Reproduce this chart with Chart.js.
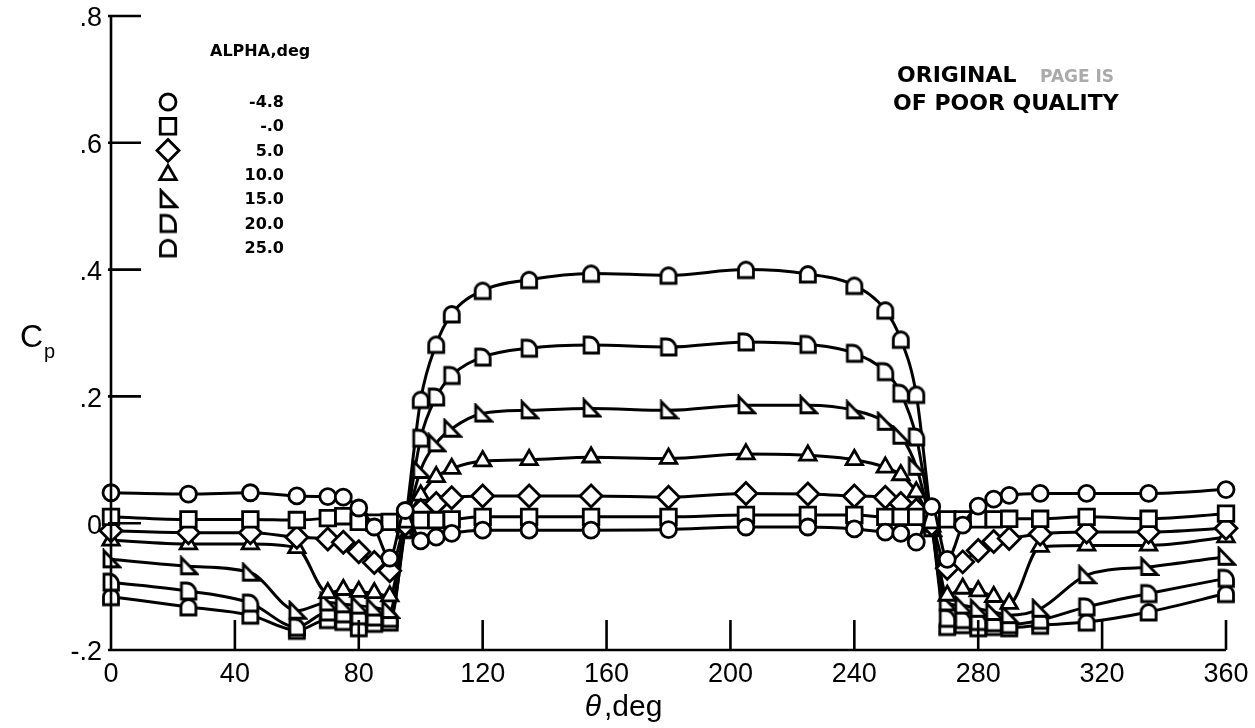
<!DOCTYPE html>
<html>
<head>
<meta charset="utf-8">
<script src="https://cdn.jsdelivr.net/npm/chart.js@4.4.1/dist/chart.umd.min.js"></script>
<style>
  html, body { margin: 0; padding: 0; background: #fff; }
  #wrap { width: 1255px; height: 728px; }
</style>
</head>
<body>
<div id="wrap"><canvas id="cpChart" width="1255" height="728"></canvas></div>
<script>
// circumferential station, deg
const theta = [0, 25, 45, 60, 70, 75, 80, 85, 90, 95, 100, 105, 110, 120, 135, 155, 180,
               205, 225, 240, 250, 255, 260, 265, 270, 275, 280, 285, 290, 300, 315, 335, 360];

// Cp for each angle of attack
const cpAlphaM48 = [0.048, 0.046, 0.048, 0.043, 0.042, 0.041, 0.024, -0.006, -0.055, 0.020, -0.028, -0.022, -0.016,
                    -0.011, -0.011, -0.011, -0.010, -0.006, -0.006, -0.009, -0.014, -0.016, -0.030, 0.026,
                    -0.057, -0.003, 0.027, 0.038, 0.044, 0.047, 0.047, 0.047, 0.053];
const cpAlpha0   = [0.010, 0.006, 0.006, 0.005, 0.008, 0.011, 0.002, 0.001, 0.002, 0.006, 0.005, 0.005, 0.006,
                    0.010, 0.010, 0.010, 0.010, 0.013, 0.013, 0.013, 0.010, 0.010, 0.010, 0.005,
                    0.006, 0.006, 0.006, 0.006, 0.007, 0.007, 0.010, 0.007, 0.015];
const cpAlpha5   = [-0.012, -0.015, -0.015, -0.022, -0.025, -0.030, -0.045, -0.062, -0.075, -0.002, 0.020, 0.031, 0.040,
                    0.043, 0.043, 0.043, 0.041, 0.047, 0.046, 0.043, 0.041, 0.031, 0.021, -0.002,
                    -0.071, -0.061, -0.043, -0.029, -0.024, -0.017, -0.014, -0.014, -0.008];
const cpAlpha10  = [-0.027, -0.033, -0.033, -0.039, -0.110, -0.105, -0.108, -0.110, -0.115, -0.005, 0.044, 0.073, 0.086,
                    0.098, 0.100, 0.104, 0.102, 0.109, 0.107, 0.100, 0.088, 0.076, 0.049, -0.005,
                    -0.114, -0.103, -0.107, -0.116, -0.127, -0.037, -0.035, -0.035, -0.022];
const cpAlpha15  = [-0.057, -0.068, -0.078, -0.138, -0.125, -0.128, -0.130, -0.133, -0.137, -0.010, 0.084, 0.126, 0.149,
                    0.173, 0.178, 0.181, 0.178, 0.186, 0.186, 0.178, 0.160, 0.138, 0.089, -0.008,
                    -0.125, -0.130, -0.135, -0.140, -0.145, -0.135, -0.082, -0.069, -0.053];
const cpAlpha20  = [-0.093, -0.107, -0.126, -0.164, -0.140, -0.143, -0.146, -0.148, -0.150, -0.010, 0.134, 0.199, 0.233,
                    0.262, 0.276, 0.281, 0.278, 0.286, 0.282, 0.268, 0.239, 0.205, 0.136, -0.005,
                    -0.150, -0.152, -0.155, -0.157, -0.160, -0.153, -0.132, -0.111, -0.087];
const cpAlpha25  = [-0.116, -0.132, -0.145, -0.169, -0.152, -0.155, -0.165, -0.158, -0.156, 0.000, 0.195, 0.282, 0.330,
                    0.367, 0.384, 0.394, 0.391, 0.400, 0.393, 0.375, 0.336, 0.290, 0.203, 0.000,
                    -0.163, -0.160, -0.165, -0.163, -0.165, -0.161, -0.156, -0.140, -0.111];

const alphaLabels = ['-4.8', '-.0', '5.0', '10.0', '15.0', '20.0', '25.0'];
const xTicks = [0, 40, 80, 120, 160, 200, 240, 280, 320, 360];
const yTicks = [-0.2, 0, 0.2, 0.4, 0.6, 0.8];
const yTickLabels = ['-.2', '0', '.2', '.4', '.6', '.8'];

// odd symbols from the old plot package
function makeMarker(kind) {
    const c = document.createElement('canvas');
    c.width = 22; c.height = 22;
    const g = c.getContext('2d');
    g.lineWidth = 2.8;
    g.strokeStyle = '#000';
    g.fillStyle = '#fff';
    g.beginPath();
    if (kind === 'flag') {
        g.moveTo(4, 2.5); g.lineTo(4, 18.5); g.lineTo(19.5, 18.5); g.closePath();
    } else if (kind === 'dee') {
        g.moveTo(4, 3); g.lineTo(4, 19); g.lineTo(18.5, 19); g.lineTo(18.5, 13);
        g.bezierCurveTo(18.5, 7, 14, 3, 9, 3); g.closePath();
    } else {
        g.moveTo(3.5, 19); g.lineTo(3.5, 11); g.arc(11, 11, 7.5, Math.PI, 0); g.lineTo(18.5, 19); g.closePath();
    }
    g.fill(); g.stroke();
    return c;
}
const flagMark = makeMarker('flag');
const deeMark = makeMarker('dee');
const archMark = makeMarker('arch');

const series = [cpAlphaM48, cpAlpha0, cpAlpha5, cpAlpha10, cpAlpha15, cpAlpha20, cpAlpha25];
const styles = ['circle', 'rect', 'rectRot', 'triangle', flagMark, deeMark, archMark];
const radii = [8, 11, 11, 9.5, 8, 8, 8];

const datasets = series.map((vals, i) => ({
    label: alphaLabels[i],
    data: theta.map((t, j) => ({ x: t, y: vals[j] })),
    borderColor: '#000',
    borderWidth: 3,
    pointStyle: styles[i],
    pointRadius: radii[i],
    pointBorderColor: '#000',
    pointBackgroundColor: '#fff',
    pointBorderWidth: 2.8,
    cubicInterpolationMode: 'monotone',
    clip: false
}));

const FONT = '"Liberation Sans", Arial, sans-serif';
const BOLD = '"DejaVu Sans", Verdana, sans-serif';

const axesPlugin = {
    id: 'axesPlugin',
    afterDatasetsDraw(chart) {
        const { ctx, scales: { x, y } } = chart;
        const x0 = x.getPixelForValue(0), x1 = x.getPixelForValue(360);
        const yTop = y.getPixelForValue(0.8), yBot = y.getPixelForValue(-0.2);
        ctx.save();
        ctx.strokeStyle = '#000';
        ctx.lineWidth = 2.6;
        ctx.beginPath();
        ctx.moveTo(x0, yTop); ctx.lineTo(x0, yBot); ctx.lineTo(x1, yBot);
        yTicks.forEach(v => {
            const py = y.getPixelForValue(v);
            ctx.moveTo(x0 - 3, py); ctx.lineTo(x0 + 30, py);
        });
        xTicks.forEach(v => {
            if (v === 0) return;
            const px = x.getPixelForValue(v);
            ctx.moveTo(px, yBot); ctx.lineTo(px, yBot - 30);
        });
        ctx.stroke();

        ctx.fillStyle = '#000';
        ctx.font = '27px ' + FONT;
        ctx.textAlign = 'center';
        ctx.textBaseline = 'middle';
        xTicks.forEach(v => ctx.fillText(String(v), x.getPixelForValue(v), 675));
        ctx.textAlign = 'right';
        yTicks.forEach((v, i) => ctx.fillText(yTickLabels[i], 102, y.getPixelForValue(v) + 3));

        // axis titles
        ctx.textAlign = 'center';
        ctx.font = 'italic 30px ' + FONT;
        ctx.fillText('\u03b8', 593, 708);
        ctx.font = '30px ' + FONT;
        ctx.textAlign = 'left';
        ctx.fillText(',deg', 604, 708);
        ctx.font = '32px ' + FONT;
        ctx.fillText('C', 20, 338);
        ctx.font = '20px ' + FONT;
        ctx.fillText('p', 44, 352);

        // legend
        ctx.font = 'bold 16px ' + BOLD;
        ctx.fillText('ALPHA,deg', 210, 52);
        ctx.textAlign = 'right';
        alphaLabels.forEach((lab, i) => {
            const ly = 102 + i * 24.3;
            ctx.lineWidth = 2.8;
            ctx.strokeStyle = '#000';
            ctx.fillStyle = '#fff';
            Chart.helpers.drawPoint(ctx, { pointStyle: styles[i], radius: radii[i], borderWidth: 2.8 }, 168, ly);
            ctx.fillStyle = '#000';
            ctx.fillText(lab, 284, ly + 1);
        });

        // stamp
        ctx.textAlign = 'left';
        ctx.font = 'bold 22px ' + BOLD;
        ctx.fillText('ORIGINAL', 897, 76);
        ctx.fillText('OF POOR QUALITY', 893, 104);
        ctx.fillStyle = '#aaa';
        ctx.font = 'bold 17px ' + BOLD;
        ctx.fillText('PAGE IS', 1040, 78);
        ctx.restore();
    }
};

new Chart(document.getElementById('cpChart'), {
    type: 'line',
    data: { datasets },
    options: {
        responsive: false,
        devicePixelRatio: 1,
        animation: false,
        layout: { padding: { left: 111, right: 29, top: 16, bottom: 78 } },
        scales: {
            x: { type: 'linear', min: 0, max: 360, display: false },
            y: { type: 'linear', min: -0.2, max: 0.8, display: false }
        },
        plugins: { legend: { display: false }, tooltip: { enabled: false } }
    },
    plugins: [axesPlugin]
});
</script>
</body>
</html>
